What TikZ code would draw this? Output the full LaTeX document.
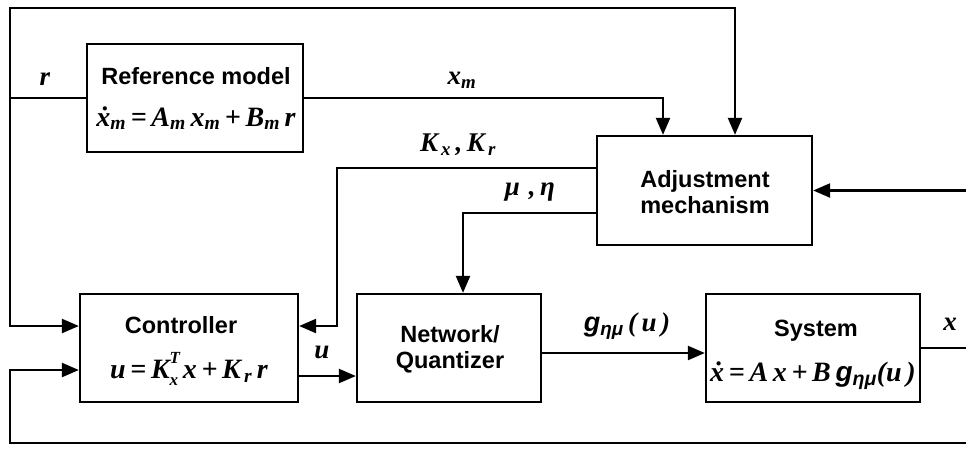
\documentclass[tikz,border=0pt]{standalone}
\usepackage{fontspec}
\setmainfont{Liberation Sans}
\newfontfamily\mth{Liberation Serif}
\usetikzlibrary{arrows.meta,calc}
\newcommand\mm[1]{{\mth\bfseries\itshape #1}}
\newcommand\sbs[1]{\textsubscript{#1}}
\newcommand\supsub[2]{\rlap{\raisebox{0.55em}{\fontsize{17}{17}\selectfont #1}}\raisebox{-0.25em}{\fontsize{17}{17}\selectfont #2}}
\tikzset{
  blk/.style={draw,line width=2.3pt,minimum width=#1,minimum height=108pt,inner sep=0pt},
  wire/.style={line width=2.3pt},
  arr/.style={wire,-{Triangle[length=17pt,width=14pt]}},
  ttl/.style={font=\fontsize{23.5}{26}\selectfont\bfseries,align=center},
  eqn/.style={font=\fontsize{28}{30}\selectfont},
  lbl/.style={font=\fontsize{27}{30}\selectfont}
}
\begin{document}
\begin{tikzpicture}[x=1pt,y=-1pt]
\useasboundingbox (0,0) rectangle (966,451);
% blocks
\node[blk=216pt] (ref) at (195,98) {};
\node[blk=215pt,minimum height=109pt] (adj) at (704.5,190.5) {};
\node[blk=218pt] (ctl) at (189,348) {};
\node[blk=184pt] (net) at (449,348) {};
\node[blk=214pt] (sys) at (813,348) {};
% block texts
\node[ttl] (reft) at (196,76) {Reference model};
\node[eqn] (refe) at (196,118) {\mm{\.x\sbs{m}\,=\,A\sbs{m}\,x\sbs{m}\,+\,B\sbs{m}\,r}};
\node[ttl] (adjt) at (705,192) {Adjustment\\mechanism};
\node[ttl] (ctlt) at (181,325) {Controller};
\node[eqn] (ctle) at (189,369) {\mm{u\,=\,K\supsub{T}{x}\,x\,+\,K\sbs{\,r}\,r}};
\node[ttl] (nett) at (450,349) {Network/\\Quantizer};
\node[ttl] (syst) at (816,331) {System};
\node[eqn] (syse) at (813,376) {\mm{\.x\,=\,A\,x\,+\,B}\,\textbf{\itshape g}\sbs{\textbf{\itshape ημ}}\mm{(u\,)}};
% labels
\node[lbl] (lr) at (45,79) {\mm{r}};
\node[lbl] (lxm) at (462,80) {\mm{x\sbs{m}}};
\node[lbl] (lk) at (458,145) {\mm{K\sbs{\,x}\,,\,K\sbs{\,r}}};
\node[lbl] (lmu) at (530,192) {\mm{μ\,\,,\,η}};
\node[lbl] (lu) at (322,352) {\mm{u}};
\node[lbl] (lg) at (627,326) {\textbf{\itshape g}\sbs{\textbf{\itshape ημ}}\,\mm{(\,u\,)}};
\node[lbl] (lx) at (950,324) {\mm{x}};
% coordinates
\coordinate (rj) at (10,98);
\coordinate (tl) at (10,8);
\coordinate (kc) at (337,326);
\coordinate (rin) at (966,190.5);
\coordinate (xout) at (966,348);
\coordinate (fb) at (966,443);
\coordinate (fbl) at (10,443);
% connectors
\draw[wire] (ref.west) -- (rj);
\draw[arr] (rj) |- ([yshift=22pt]ctl.west);
\draw[arr] (rj) -- (tl) -| ([xshift=30.5pt]adj.north);
\draw[arr] (ref.east) -| ([xshift=-41.5pt]adj.north);
\draw[arr] (rin) -- (adj.east);
\draw[arr] ([yshift=22.5pt]adj.west) -| (kc) -- ([yshift=22pt]ctl.east);
\draw[arr] ([yshift=-22.5pt]adj.west) -| ([xshift=14pt]net.north);
\draw[arr] ([yshift=-28pt]ctl.east) -- ([yshift=-28pt]net.west);
\draw[arr] ([yshift=-5pt]net.east) -- ([yshift=-5pt]sys.west);
\draw[wire] (sys.east) -- (xout);
\draw[arr] (fb) -- (fbl) |- ([yshift=-22pt]ctl.west);
\end{tikzpicture}
\end{document}
